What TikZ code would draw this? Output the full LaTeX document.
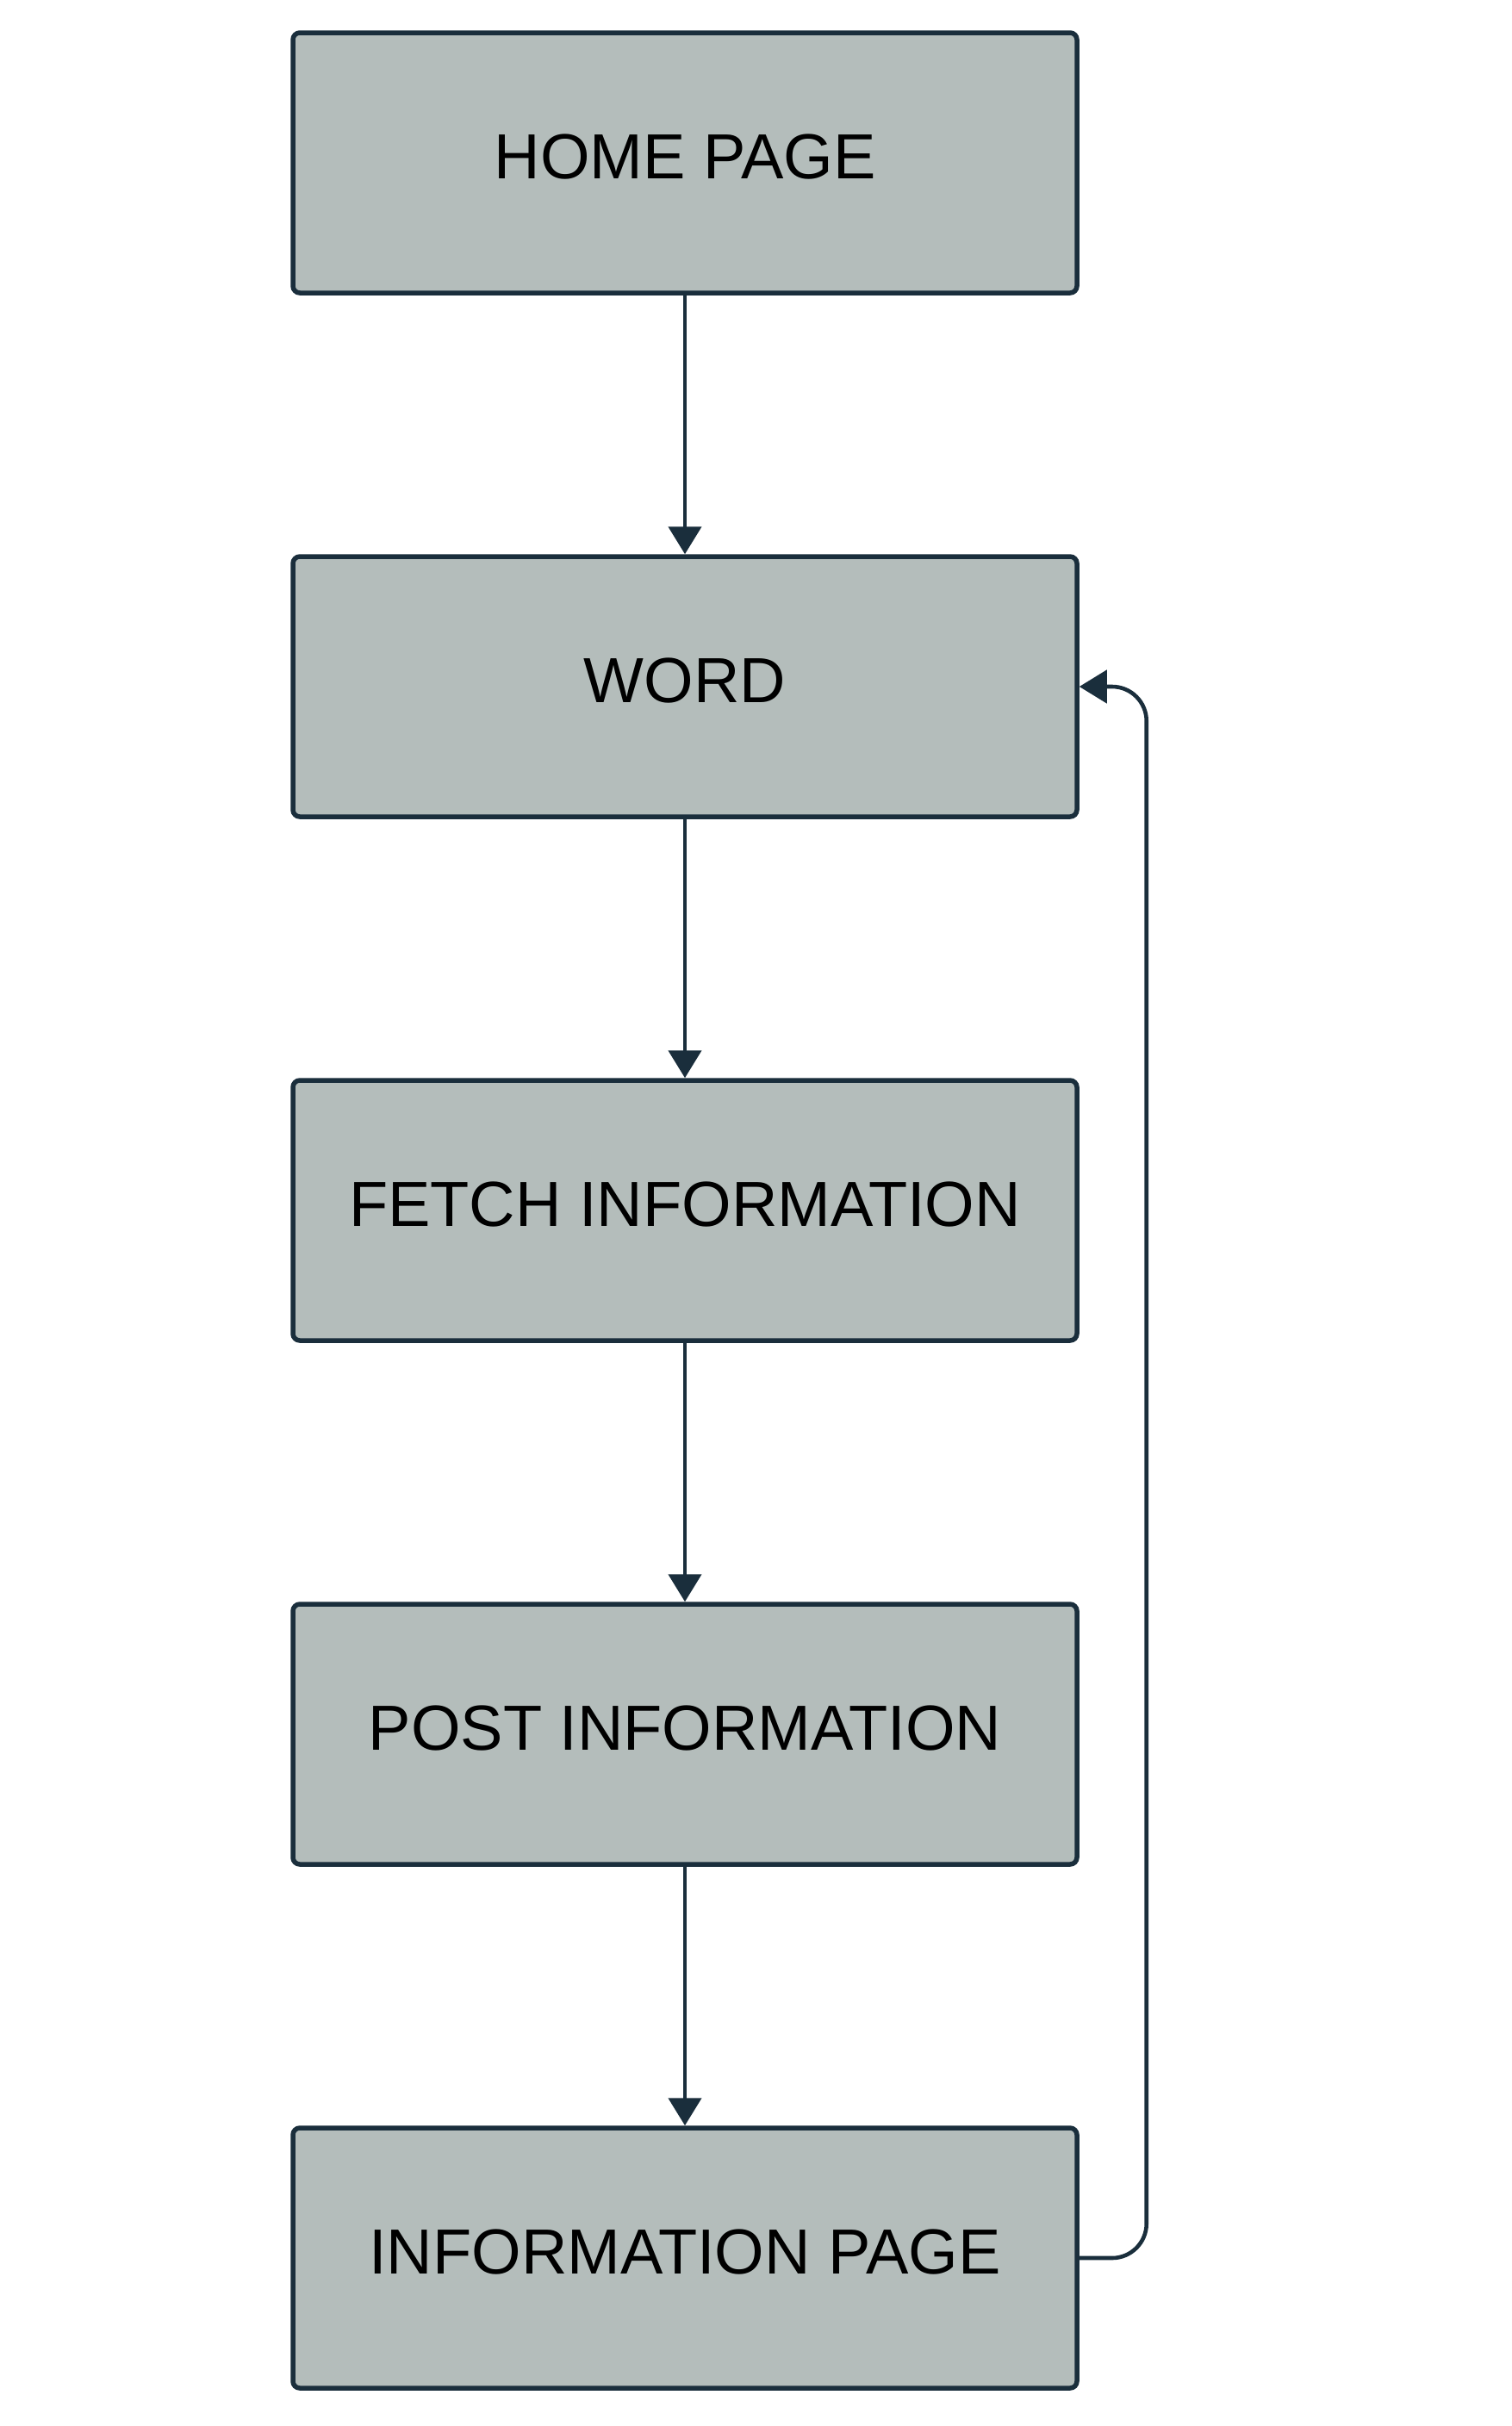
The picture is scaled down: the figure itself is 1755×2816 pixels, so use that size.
\documentclass[tikz,border=0pt]{standalone}
\usepackage{fontspec}
\setmainfont{Liberation Sans}
\usetikzlibrary{arrows.meta}
\definecolor{boxfill}{HTML}{B4BDBB}
\definecolor{boxline}{HTML}{1A2E3C}
\begin{document}
\begin{tikzpicture}[x=1pt,y=1pt,
    page/.style={draw=boxline,fill=boxfill,line width=5.5pt,rounded corners=8pt,
      minimum width=910pt,minimum height=302pt,inner sep=0pt,text depth=14pt,
      font=\fontsize{74}{89}\selectfont},
    link/.style={draw=boxline,line width=4.6pt,-{Triangle[width=38pt,length=32pt]}}]
  \useasboundingbox (0,0) rectangle (1755,-2816);
  \draw
    (795,-189) node[page] (home){HOME PAGE}
    (795,-797) node[page] (word){WORD}
    (795,-1405) node[page] (fetch){FETCH INFORMATION}
    (795,-2013) node[page] (post){POST INFORMATION}
    (795,-2621) node[page] (info){INFORMATION PAGE};
  \begin{scope}[link]
    \draw (home) to (word);
    \draw (word) to (fetch);
    \draw (fetch) to (post);
    \draw (post) to (info);
    \draw[rounded corners=40pt] (info.east) -- ++(78,0) |- (word.east);
  \end{scope}
\end{tikzpicture}
\end{document}
